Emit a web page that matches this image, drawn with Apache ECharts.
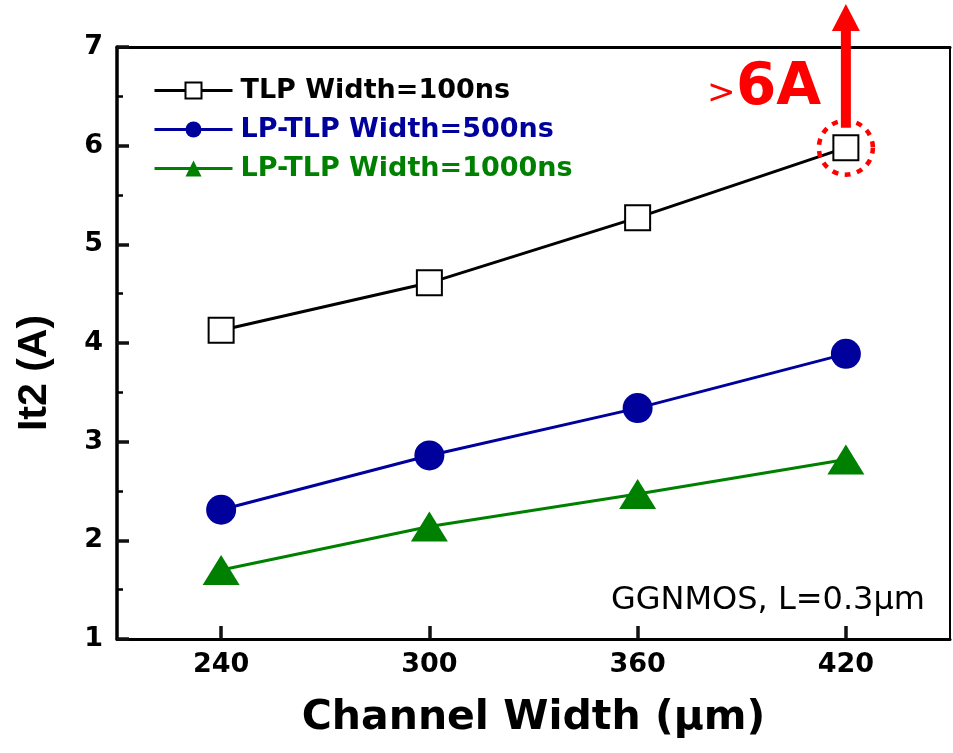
<!DOCTYPE html>
<html><head><meta charset="utf-8">
<script src="https://cdn.jsdelivr.net/npm/echarts@6/dist/echarts.min.js"></script>
<style>html,body{margin:0;padding:0;background:#fff}#c{width:953px;height:753px}</style>
</head><body><div id="c"></div>
<script>
// ---- data ----
const widths = [240, 300, 360, 420];
const xTicks = [240, 300, 360, 420];
const yTicks = [1, 2, 3, 4, 5, 6, 7];
const tlp100 = [4.13, 4.61, 5.27, 5.98];
const lptlp500 = [2.31, 2.86, 3.34, 3.89];
const lptlp1000 = [1.70, 2.14, 2.47, 2.82];
const seriesNames = ['TLP Width=100ns', 'LP-TLP Width=500ns', 'LP-TLP Width=1000ns'];
const xTitle = 'Channel Width (μm)';
const yTitle = 'It2 (A)';
const noteText = 'GGNMOS, L=0.3μm';
const calloutGt = '>';
const calloutVal = '6A';

const BLACK = '#000000', BLUE = '#00009c', GREEN = '#008000', RED = '#ff0000';
const pair = (xs, ys) => xs.map((x, i) => [x, ys[i]]);

const chart = echarts.init(document.getElementById('c'), null, {renderer: 'canvas'});
const tickFont = {fontFamily: 'DejaVu Sans', fontWeight: 'bold', fontSize: 27, color: '#000'};

const option = {
  backgroundColor: '#fff',
  animation: false,
  grid: {left: 117, right: 3, top: 47, bottom: 114, containLabel: false},
  legend: {
    orient: 'vertical', left: 148, top: 72, itemWidth: 78, itemHeight: 20, itemGap: 12,
    lineStyle: {width: 3},
    textStyle: {fontFamily: 'DejaVu Sans', fontWeight: 'bold', fontSize: 27, padding: [0, 0, 0, 3]},
    data: [
      {name: seriesNames[0], textStyle: {color: BLACK}},
      {name: seriesNames[1], textStyle: {color: BLUE}},
      {name: seriesNames[2], textStyle: {color: GREEN}}
    ]
  },
  xAxis: [{
    type: 'value', min: 210, max: 450, interval: 30,
    name: xTitle, nameLocation: 'middle', nameGap: 59,
    nameTextStyle: {fontFamily: 'DejaVu Sans', fontWeight: 'bold', fontSize: 41, color: '#000'},
    axisLine: {show: true, lineStyle: {color: '#000', width: 3}},
    axisTick: {show: true, inside: true, length: 13, lineStyle: {color: '#111', width: 3.5}, customValues: xTicks},
    axisLabel: Object.assign({margin: 12, customValues: xTicks}, tickFont),
    splitLine: {show: false}
  }, {
    type: 'value', position: 'top', min: 210, max: 450, interval: 30,
    axisLine: {show: true, onZero: false, lineStyle: {color: '#000', width: 3}},
    axisTick: {show: false}, axisLabel: {show: false}, splitLine: {show: false}
  }],
  yAxis: [{
    type: 'value', min: yTicks[0], max: yTicks[yTicks.length - 1], interval: 1,
    name: yTitle, nameLocation: 'middle', nameGap: 62, nameRotate: 90,
    nameTextStyle: {fontFamily: 'Liberation Sans', fontWeight: 'bold', fontSize: 41, color: '#000', padding: [0, 60, 0, 0]},
    axisLine: {show: true, lineStyle: {color: '#000', width: 3.5}},
    axisTick: {show: true, inside: true, length: 12, lineStyle: {color: '#111', width: 3.5}},
    minorTick: {show: true, splitNumber: 2, length: 6, lineStyle: {color: '#000', width: 2.5}},
    axisLabel: Object.assign({margin: 14}, tickFont),
    splitLine: {show: false}
  }, {
    type: 'value', position: 'right', min: yTicks[0], max: yTicks[yTicks.length - 1], interval: 1,
    axisLine: {show: true, onZero: false, lineStyle: {color: '#000', width: 2}},
    axisTick: {show: false}, axisLabel: {show: false}, splitLine: {show: false}
  }],
  series: [{
    name: seriesNames[0], type: 'line', data: pair(widths, tlp100),
    symbol: 'rect', symbolSize: 25, z: 3,
    lineStyle: {color: BLACK, width: 3},
    itemStyle: {color: '#fff', borderColor: BLACK, borderWidth: 2},
    markPoint: {
      silent: true, symbol: 'circle', symbolSize: 54,
      itemStyle: {color: 'rgba(0,0,0,0)', borderColor: RED, borderWidth: 4.5, borderType: [6, 6.5]},
      label: {show: false},
      data: [{coord: [widths[3], tlp100[3]]}]
    }
  }, {
    name: seriesNames[1], type: 'line', data: pair(widths, lptlp500),
    symbol: 'circle', symbolSize: 30,
    lineStyle: {color: BLUE, width: 3},
    itemStyle: {color: BLUE}
  }, {
    name: seriesNames[2], type: 'line', data: pair(widths, lptlp1000),
    symbol: 'triangle', symbolSize: [37, 30],
    lineStyle: {color: GREEN, width: 3},
    itemStyle: {color: GREEN}
  }]
};
chart.setOption(option);

// annotations anchored to the highlighted data point
const p = chart.convertToPixel({xAxisIndex: 0, yAxisIndex: 0}, [widths[3], tlp100[3]]);
const note = chart.convertToPixel({xAxisIndex: 0, yAxisIndex: 0}, [450, 1]);

chart.setOption({
  graphic: [
    {type: 'rect', shape: {x: p[0] - 5, y: 30, width: 10, height: p[1] - 20 - 30}, style: {fill: RED}, z: 10},
    {type: 'polygon', shape: {points: [[p[0] - 14, 31], [p[0] + 14, 31], [p[0], 4]]}, style: {fill: RED}, z: 10},
    {type: 'text', x: p[0] - 139, y: p[1] - 36, style: {text: calloutGt, font: 'normal 34px "DejaVu Sans"', fill: RED, textVerticalAlign: 'bottom'}, z: 10},
    {type: 'text', x: p[0] - 110, y: p[1] - 30, style: {text: calloutVal, font: 'bold 58px "DejaVu Sans"', fill: RED, textVerticalAlign: 'bottom'}, z: 10},
    {type: 'text', x: note[0] - 25, y: note[1] - 38, style: {text: noteText, font: 'normal 32px "DejaVu Sans"', fill: '#000', textAlign: 'right', textVerticalAlign: 'middle'}, z: 10}
  ]
});
</script>
</body></html>
